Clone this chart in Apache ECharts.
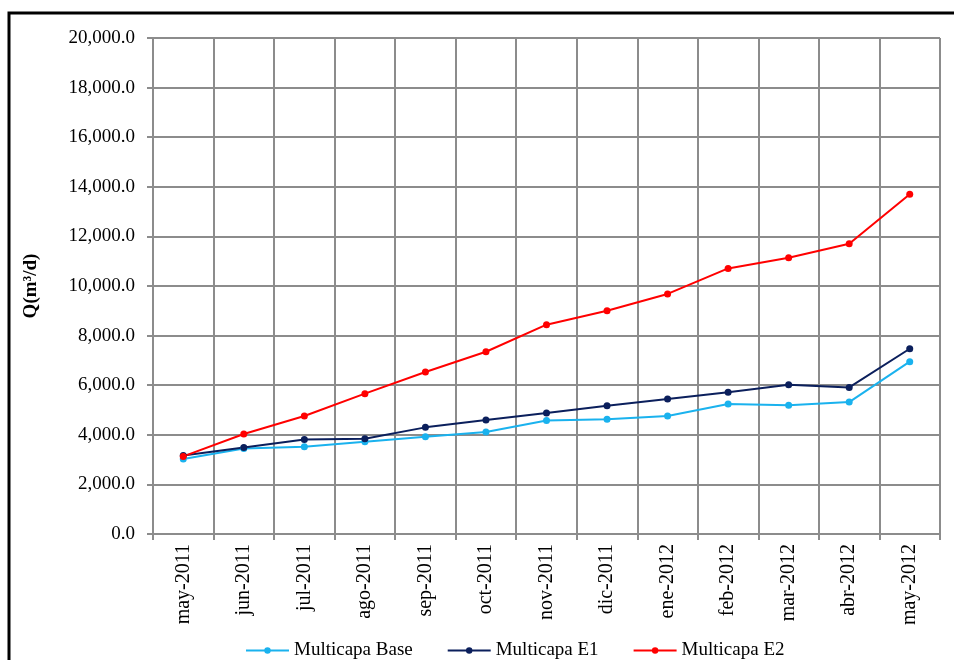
<!DOCTYPE html>
<html>
<head>
<meta charset="utf-8">
<script src="https://cdn.jsdelivr.net/npm/echarts@6/dist/echarts.min.js"></script>
<style>
  html, body { margin: 0; padding: 0; background: #fff; }
  #chart { width: 954px; height: 660px; }
</style>
</head>
<body>
<div id="chart"></div>
<script>
var myChart = echarts.init(document.getElementById('chart'));

var months = ['may-2011', 'jun-2011', 'jul-2011', 'ago-2011', 'sep-2011', 'oct-2011', 'nov-2011',
  'dic-2011', 'ene-2012', 'feb-2012', 'mar-2012', 'abr-2012', 'may-2012'];

var base = [3020, 3450, 3520, 3720, 3920, 4110, 4580, 4630, 4760, 5240, 5190, 5320, 6950];
var e1 = [3170, 3490, 3810, 3840, 4300, 4600, 4880, 5170, 5440, 5720, 6020, 5910, 7470];
var e2 = [3130, 4030, 4760, 5660, 6530, 7350, 8440, 9000, 9680, 10710, 11140, 11700, 13700];

var seriesNames = ['Multicapa Base', 'Multicapa E1', 'Multicapa E2'];

var serif = '"Liberation Serif", "DejaVu Serif", serif';
var gridColor = '#8c8c8c';

function fmt(v) {
  return v.toLocaleString('en-US', { minimumFractionDigits: 1, maximumFractionDigits: 1 });
}

function line(name, color, data) {
  return {
    name: name,
    type: 'line',
    data: data,
    symbol: 'circle',
    symbolSize: 7,
    showSymbol: true,
    lineStyle: { color: color, width: 2 },
    itemStyle: { color: color },
    emphasis: { disabled: true }
  };
}

// legend text boxes are wider in the original (spaced-out lettering)
var legendWidths = [145, 128, 121];

var option = {
  animation: false,
  textStyle: { fontFamily: serif },
  graphic: [{
    type: 'rect',
    shape: { x: 9, y: 13, width: 960, height: 700 },
    style: { fill: 'none', stroke: '#000', lineWidth: 3 },
    silent: true
  }, {
    // right edge of the plot is a bit lighter
    type: 'line',
    shape: { x1: 940, y1: 38, x2: 940, y2: 534 },
    style: { stroke: '#b0b0b0', lineWidth: 2 },
    silent: true
  }],
  grid: { left: 153, right: 14, top: 38, bottom: 126 },
  legend: {
    left: 240,
    top: 636,
    itemGap: 34,
    itemWidth: 43,
    itemHeight: 8,
    data: seriesNames.map(function (n, i) {
      return { name: n, textStyle: { width: legendWidths[i] } };
    }),
    textStyle: { fontFamily: serif, fontSize: 19, color: '#000' }
  },
  xAxis: {
    type: 'category',
    data: months,
    boundaryGap: true,
    axisLine: { lineStyle: { color: gridColor, width: 2 } },
    axisTick: { show: true, length: 6, lineStyle: { color: gridColor, width: 2 } },
    splitLine: { show: true, interval: 0, lineStyle: { color: gridColor, width: 2 } },
    axisLabel: {
      interval: 0,
      rotate: 90,
      margin: 10,
      fontFamily: serif,
      fontSize: 20,
      color: '#000'
    }
  },
  yAxis: {
    type: 'value',
    min: 0,
    max: 20000,
    interval: 2000,
    name: 'Q(m³/d)',
    nameLocation: 'middle',
    nameGap: 112,
    nameTextStyle: { fontFamily: serif, fontSize: 19, fontWeight: 'bold', color: '#000' },
    axisLine: { show: true, lineStyle: { color: gridColor, width: 2 } },
    axisTick: { show: true, length: 6, lineStyle: { color: gridColor, width: 2 } },
    splitLine: { show: true, lineStyle: { color: gridColor, width: 2 } },
    axisLabel: {
      margin: 18,
      fontFamily: serif,
      fontSize: 19,
      color: '#000',
      formatter: fmt
    }
  },
  series: [
    line(seriesNames[0], '#1ab2ee', base),
    line(seriesNames[1], '#0b1f5c', e1),
    line(seriesNames[2], '#ff0000', e2)
  ]
};

option && myChart.setOption(option);
</script>
</body>
</html>
